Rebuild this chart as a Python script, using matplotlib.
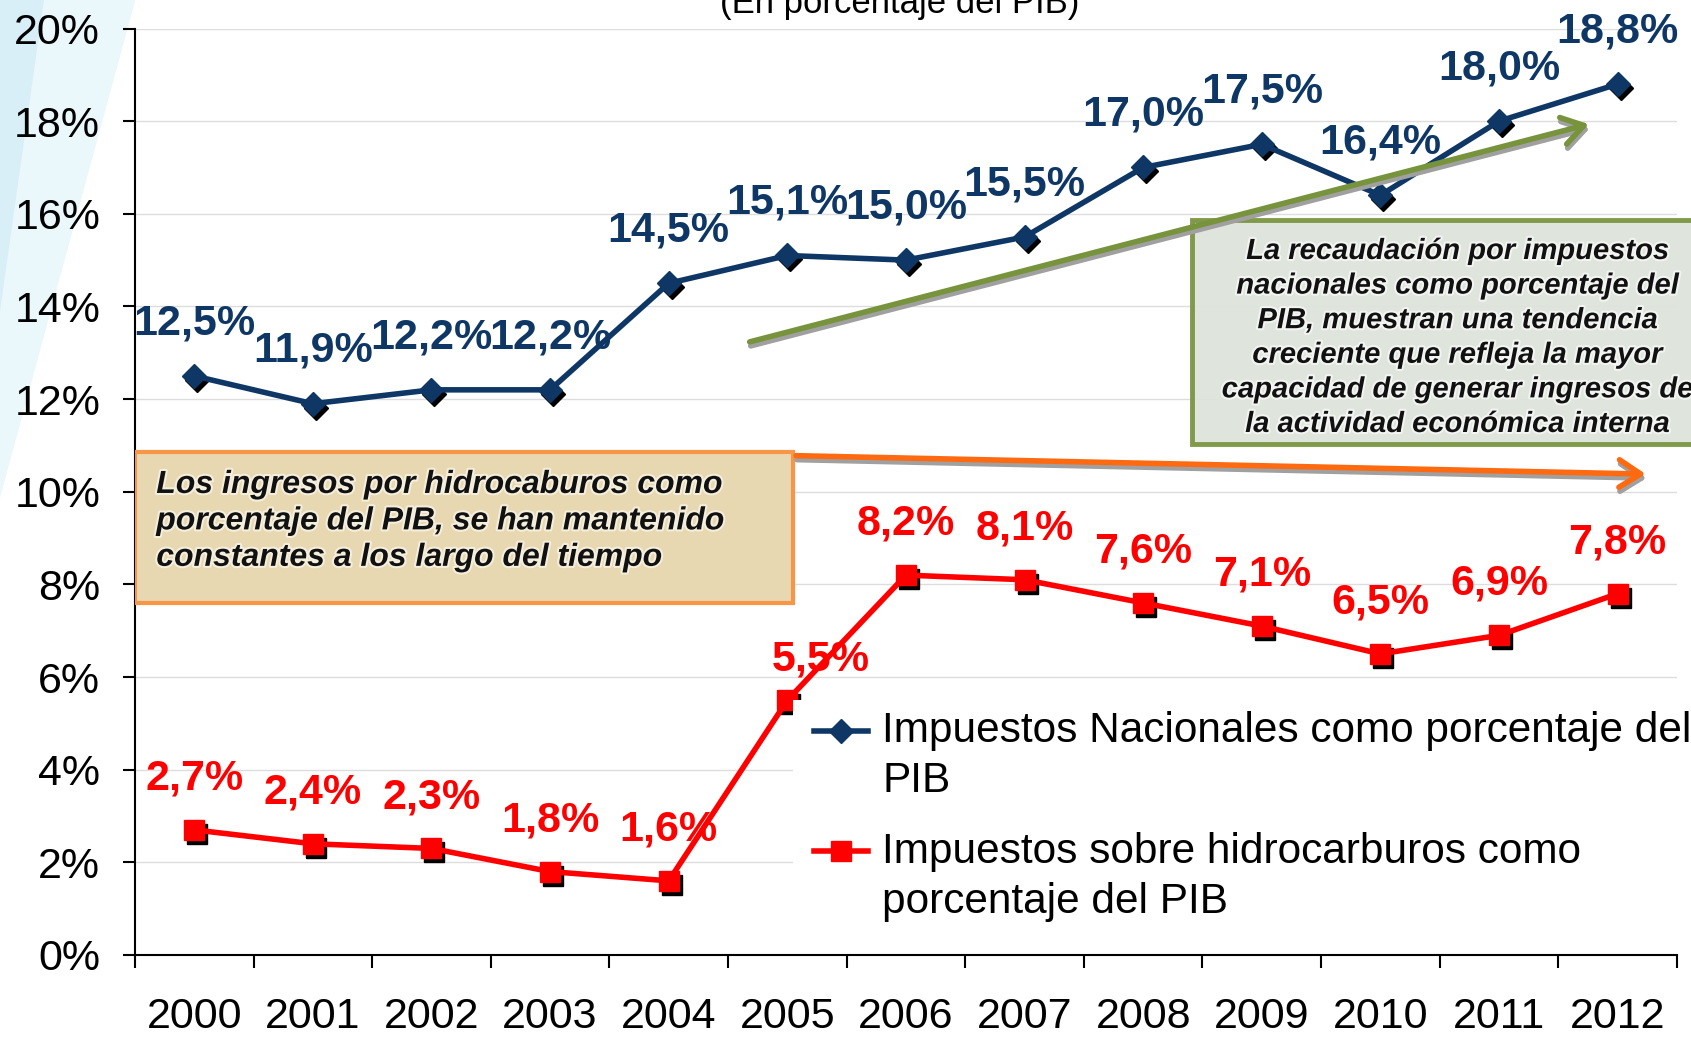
import matplotlib.pyplot as plt
from matplotlib.patches import Polygon, Rectangle, FancyArrowPatch
from matplotlib import transforms, patheffects

# datos (en porcentaje del PIB)
years = [str(y) for y in range(2000, 2013)]
nacionales = [12.5, 11.9, 12.2, 12.2, 14.5, 15.1, 15.0, 15.5, 17.0, 17.5, 16.4, 18.0, 18.8]
hidrocarburos = [2.7, 2.4, 2.3, 1.8, 1.6, 5.5, 8.2, 8.1, 7.6, 7.1, 6.5, 6.9, 7.8]
yticks = list(range(0, 21, 2))

lbl_nac = "Impuestos Nacionales como porcentaje del\nPIB"
lbl_hid = "Impuestos sobre hidrocarburos como\nporcentaje del PIB"
txt_orange = ("Los ingresos por hidrocaburos como\n"
              "porcentaje del PIB, se han mantenido\n"
              "constantes a los largo del tiempo")
txt_green = ("La recaudación por impuestos\n"
             "nacionales como porcentaje del\n"
             "PIB, muestran una tendencia\n"
             "creciente que refleja la mayor\n"
             "capacidad de generar ingresos de\n"
             "la actividad económica interna")

blue = '#0E3766'
red = '#FF0000'

plt.rcParams['font.family'] = ['Liberation Sans', 'DejaVu Sans']

fig = plt.figure(figsize=(16.91, 10.37), dpi=100)

# fondo celeste del slide (esquina superior izquierda)
fig.patches.append(Polygon([(0, 1), (0.080, 1), (0, 0.52)], closed=True,
                           transform=fig.transFigure, fc='#EAF7FB', ec='none', zorder=-2))
fig.patches.append(Polygon([(0, 1), (0.026, 1), (0, 0.70)], closed=True,
                           transform=fig.transFigure, fc='#D8EFF7', ec='none', zorder=-1))

ax = fig.add_axes([0.0798, 0.0791, 0.9119, 0.8934])
ax.patch.set_alpha(0)

x = list(range(len(years)))
shadow = transforms.offset_copy(ax.transData, fig=fig, x=3, y=-4, units='dots')

ax.plot(x, nacionales, ls='none', marker='D', ms=12, color='black',
        transform=shadow, zorder=2.5)
ax.plot(x, hidrocarburos, ls='none', marker='s', ms=15, color='black',
        transform=shadow, zorder=2.5)
l1, = ax.plot(x, nacionales, color=blue, lw=4, marker='D', ms=12, zorder=3)
l2, = ax.plot(x, hidrocarburos, color=red, lw=4, marker='s', ms=15, zorder=3)

def fmt(v):
    return f"{v:.1f}".replace('.', ',') + '%'

for xi, v in zip(x, nacionales):
    ax.annotate(fmt(v), (xi, v), xytext=(0, 38), textcoords='offset points',
                ha='center', va='center', fontsize=31, fontweight='bold',
                color=blue, zorder=6)
# la etiqueta de 2005 está desplazada en el original
shift_red = {5: (24, 29)}
for xi, v in zip(x, hidrocarburos):
    ax.annotate(fmt(v), (xi, v), xytext=shift_red.get(xi, (0, 37)), textcoords='offset points',
                ha='center', va='center', fontsize=31, fontweight='bold',
                color=red, zorder=6)

ax.set_xlim(-0.5, 12.5)
ax.set_ylim(0, 20)
ax.set_xticks(x)
ax.set_xticklabels(years)
ax.set_xticks([i - 0.5 for i in range(len(years) + 1)], minor=True)
ax.tick_params(axis='x', which='major', length=0, pad=30, labelsize=31)
ax.tick_params(axis='x', which='minor', length=9, width=1.5, direction='out')
ax.set_yticks(yticks)
ax.set_yticklabels([f"{t}%" for t in yticks])
ax.tick_params(axis='y', length=9, width=1.5, pad=16, labelsize=31)
ax.yaxis.grid(True, color='#DDDDDD', lw=1)
ax.set_axisbelow(True)
for s in ['top', 'right']:
    ax.spines[s].set_visible(False)
for s in ['left', 'bottom']:
    ax.spines[s].set_linewidth(1.5)

# cuadro naranja
ax.add_patch(Rectangle((-0.5, 7.59), 5.55, 3.26, fc='#E8D8B2', ec='#F79646', lw=3, zorder=4))
ax.text(-0.32, 9.36, txt_orange, ha='left', va='center', fontsize=23,
        fontweight='bold', style='italic', color='#111111', zorder=5, linespacing=1.28,
        path_effects=[patheffects.withStroke(linewidth=3, foreground='#F4EEDC')])

# cuadro verde
ax.add_patch(Rectangle((8.41, 11.02), 5.5, 4.84, fc='#DDE3DA', ec='#77933C', lw=3.5,
                       alpha=0.92, zorder=4, clip_on=False))
ax.text(10.65, 13.33, txt_green, ha='center', va='center', fontsize=21,
        fontweight='bold', style='italic', color='#111111', zorder=5, linespacing=1.3,
        clip_on=False,
        path_effects=[patheffects.withStroke(linewidth=3, foreground='#F2F4F1')])

# flechas de tendencia
arrow_shadow = transforms.offset_copy(ax.transData, fig=fig, x=1, y=-4, units='dots')
for (p0, p1, col) in [((4.66, 13.22), (11.78, 17.95), '#77933C'),
                      ((5.05, 10.78), (12.26, 10.38), '#FF6A10')]:
    ax.add_patch(FancyArrowPatch(p0, p1, arrowstyle='->,head_length=0.7,head_width=0.45',
                                 mutation_scale=22, lw=4, color='#A0A0A0',
                                 transform=arrow_shadow, zorder=4.4, clip_on=False))
    ax.add_patch(FancyArrowPatch(p0, p1, arrowstyle='->,head_length=0.7,head_width=0.45',
                                 mutation_scale=22, lw=4, color=col,
                                 zorder=4.5, clip_on=False))

# leyenda (dibujada a mano para alinear el símbolo con la primera línea)
ax.add_patch(Rectangle((0.427, 0.019), 0.6, 0.256, transform=ax.transAxes,
                       fc='white', ec='none', zorder=4.2, clip_on=False))
for line, label, y_sym, y_txt in [(l1, lbl_nac, 0.2421, 0.2148),
                                  (l2, lbl_hid, 0.1118, 0.0844)]:
    ax.plot([0.4405, 0.4755], [y_sym, y_sym], transform=ax.transAxes, color=line.get_color(),
            lw=4, zorder=4.3, clip_on=False)
    ax.plot([0.458], [y_sym], transform=ax.transAxes, color=line.get_color(),
            marker=line.get_marker(), ms=line.get_markersize(), ls='none',
            zorder=4.3, clip_on=False)
    ax.text(0.4846, y_txt, label, transform=ax.transAxes, ha='left', va='center',
            fontsize=30.5, linespacing=1.31, zorder=4.3)

fig.text(900 / 1691, 1 - 13 / 1037, '(En porcentaje del PIB)', ha='center',
         va='baseline', fontsize=25)

fig.savefig('out.png', dpi=100)
